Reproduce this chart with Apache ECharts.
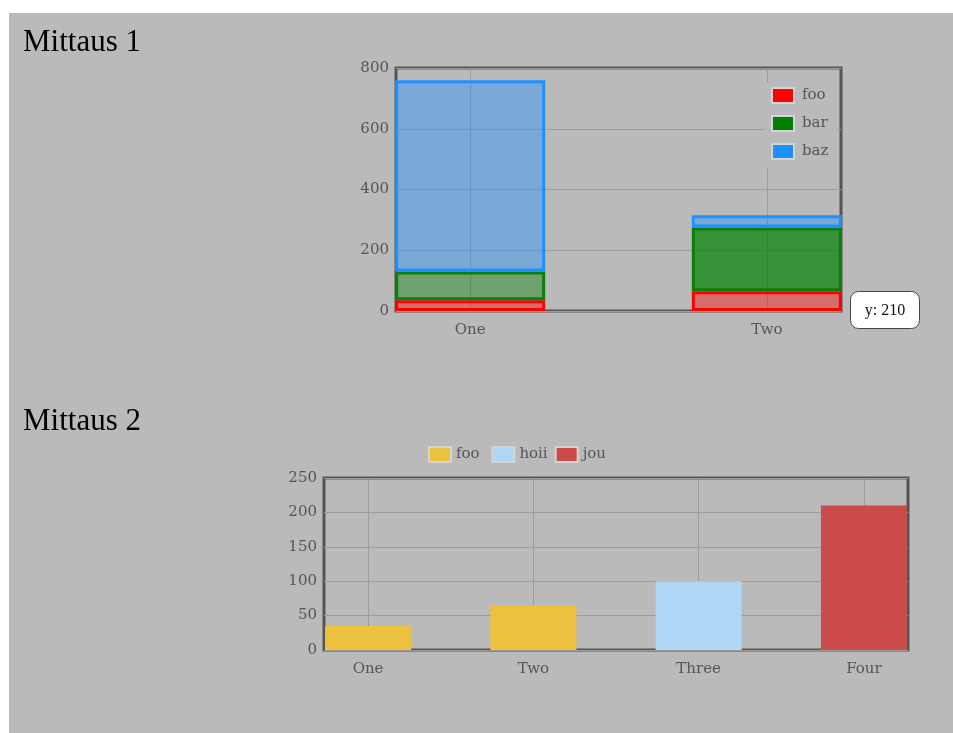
<!DOCTYPE html>
<html>
<head>
<meta charset="utf-8">
<script src="https://cdn.jsdelivr.net/npm/echarts@6/dist/echarts.min.js"></script>
<style>
  html, body { margin: 0; padding: 0; background: #ffffff; }
  #bg { position: absolute; left: 9px; top: 13px; width: 944px; height: 720px; background: #bababa; }
  #chart { position: absolute; left: 0; top: 0; width: 953px; height: 733px; }
</style>
</head>
<body>
<div id="bg"></div>
<div id="chart"></div>
<script>
// ---- Data ----
const titles = ['Mittaus 1', 'Mittaus 2'];

// Chart 1 (stacked)
const categories1 = ['One', 'Two'];
const foo1 = [35, 65];
const bar1 = [95, 210];
const baz1 = [630, 40];
const yTicks1 = [0, 200, 400, 600, 800];

// Chart 2
const categories2 = ['One', 'Two', 'Three', 'Four'];
const foo2 = [35, 65, null, null];
const hoii2 = [null, null, 100, null];
const jou2 = [null, null, null, 210];
const yTicks2 = [0, 50, 100, 150, 200, 250];

// hovered item in chart 1 (series "bar", category "Two")
const hoverSeries = 'bar';
const hoverIndex = 1;
const tooltipText = 'y: ' + bar1[hoverIndex];

// ---- Helpers ----
// Each plot keeps some free room at both ends: categories sit on every
// `step`-th slot of a padded category axis (boundaryGap false), after `pad` empty slots.
const LAYOUT1 = { step: 4, pad: 1 };
const LAYOUT2 = { step: 15, pad: 4 };
function padList(list, L, empty) {
  const out = [];
  for (let k = 0; k < L.pad; k++) out.push(empty);
  list.forEach((c, i) => {
    out.push(c === null ? empty : c);
    const fill = i === list.length - 1 ? L.pad : L.step - 1;
    for (let k = 0; k < fill; k++) out.push(empty);
  });
  return out;
}

const FONT = 'DejaVu Serif';
const LABEL = { fontFamily: FONT, fontSize: 15, color: '#555' };
const GRIDLINE_COLOR = '#9c9c9c';

const chart = echarts.init(document.getElementById('chart'), null, { renderer: 'canvas' });

function stackedSeries(name, values, fill, hoverFill, border) {
  const padded = padList(values, LAYOUT1, null);
  const hoverSlot = LAYOUT1.pad + hoverIndex * LAYOUT1.step;
  return {
    name: name, type: 'bar', xAxisIndex: 0, yAxisIndex: 0, stack: 'm1',
    barWidth: 150,
    itemStyle: { color: fill, borderColor: border, borderWidth: 3 },
    data: padded.map((v, i) => (name === hoverSeries && i === hoverSlot)
      ? { value: v, itemStyle: { color: hoverFill } }
      : v)
  };
}
function plainSeries(name, values, color) {
  return {
    name: name, type: 'bar', xAxisIndex: 1, yAxisIndex: 1, barWidth: 86, barGap: '-100%',
    itemStyle: { color: color },
    data: padList(values, LAYOUT2, null)
  };
}

function catAxis(gridIndex, cats, L) {
  return {
    type: 'category', gridIndex: gridIndex, boundaryGap: false,
    data: padList(cats, L, ''),
    axisLine: { show: false },
    axisTick: { show: false },
    axisLabel: Object.assign({ interval: 0, margin: 12 }, LABEL),
    splitLine: {
      show: true,
      interval: (index) => index >= L.pad && (index - L.pad) % L.step === 0 && (index - L.pad) / L.step < cats.length,
      lineStyle: { color: GRIDLINE_COLOR, width: 1 }
    }
  };
}
function valAxis(gridIndex, ticks) {
  return {
    type: 'value', gridIndex: gridIndex,
    min: ticks[0], max: ticks[ticks.length - 1], interval: ticks[1] - ticks[0],
    axisLine: { show: false }, axisTick: { show: false },
    axisLabel: Object.assign({ margin: 7 }, LABEL),
    splitLine: { show: true, lineStyle: { color: GRIDLINE_COLOR, width: 1 } }
  };
}

const option = {
  backgroundColor: 'transparent',
  animation: false,
  title: [
    { text: titles[0], left: 18, top: 22, padding: 5, textStyle: { fontFamily: 'Liberation Serif', fontSize: 31, fontWeight: 'normal', color: '#000' } },
    { text: titles[1], left: 18, top: 401, padding: 5, textStyle: { fontFamily: 'Liberation Serif', fontSize: 31, fontWeight: 'normal', color: '#000' } }
  ],
  legend: [
    {
      orient: 'vertical', left: 765, top: 82, padding: [5, 8, 8, 6],
      backgroundColor: '#bababa',
      itemWidth: 22, itemHeight: 15, itemGap: 11, icon: 'rect',
      textStyle: { fontFamily: FONT, fontSize: 15, color: '#555', padding: [0, 0, 0, 3] },
      itemStyle: { borderColor: '#d4d4d4', borderWidth: 2 },
      data: [
        { name: 'foo', itemStyle: { color: '#ff0000' } },
        { name: 'bar', itemStyle: { color: '#008000' } },
        { name: 'baz', itemStyle: { color: '#1e90ff' } }
      ]
    },
    {
      orient: 'horizontal', left: 423, top: 441, padding: 5,
      itemWidth: 22, itemHeight: 15, itemGap: 7, icon: 'rect',
      textStyle: { fontFamily: FONT, fontSize: 15, color: '#555' },
      itemStyle: { borderColor: '#d4d4d4', borderWidth: 2 },
      data: [
        { name: 'foo ' },
        { name: 'hoii' },
        { name: 'jou' }
      ]
    }
  ],
  grid: [
    { left: 396, top: 68, width: 445, height: 243, show: true, borderColor: '#555', borderWidth: 3, backgroundColor: 'transparent' },
    { left: 324, top: 478, width: 584, height: 172, show: true, borderColor: '#555', borderWidth: 3, backgroundColor: 'transparent' }
  ],
  xAxis: [catAxis(0, categories1, LAYOUT1), catAxis(1, categories2, LAYOUT2)],
  yAxis: [valAxis(0, yTicks1), valAxis(1, yTicks2)],
  series: [
    stackedSeries('foo', foo1, 'rgba(255,0,0,0.42)', 'rgba(255,0,0,0.7)', '#ff0000'),
    stackedSeries('bar', bar1, 'rgba(0,128,0,0.4)', 'rgba(0,128,0,0.7)', '#0a800a'),
    stackedSeries('baz', baz1, 'rgba(30,144,255,0.42)', 'rgba(30,144,255,0.7)', '#1e90ff'),
    plainSeries('foo ', foo2, '#ecc13f'),
    plainSeries('hoii', hoii2, '#aed6f6'),
    plainSeries('jou', jou2, '#cb4b4a')
  ],
  graphic: [
    {
      type: 'group', left: 850, top: 291,
      children: [
        { type: 'rect', shape: { x: 0, y: 0, width: 69, height: 37, r: 8 }, style: { fill: '#ffffff', stroke: '#444', lineWidth: 1 } },
        { type: 'text', style: { x: 34.5, y: 19, text: tooltipText, font: '16px "Liberation Serif"', fill: '#111', align: 'center', verticalAlign: 'middle' } }
      ]
    }
  ]
};

chart.setOption(option);
</script>
</body>
</html>
